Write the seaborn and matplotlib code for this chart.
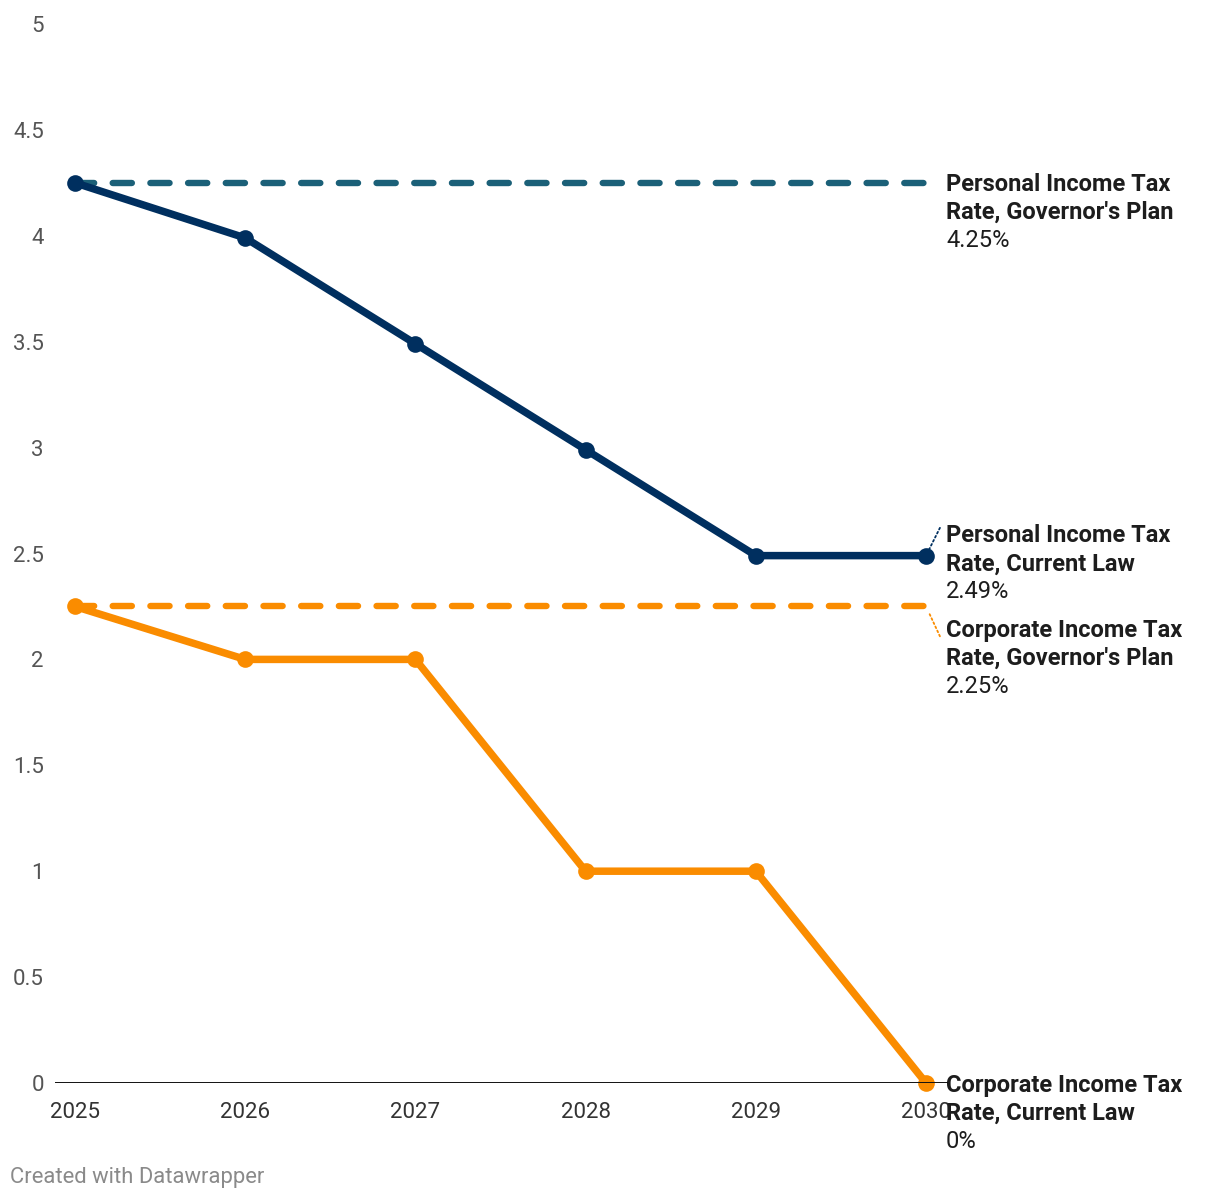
import numpy as np
import pandas as pd
import matplotlib.pyplot as plt
import seaborn as sns

# values
years = [2025, 2026, 2027, 2028, 2029, 2030]
personal_current = [4.25, 3.99, 3.49, 2.99, 2.49, 2.49]
personal_plan = [4.25, 4.25, 4.25, 4.25, 4.25, 4.25]
corporate_current = [2.25, 2.0, 2.0, 1.0, 1.0, 0.0]
corporate_plan = [2.25, 2.25, 2.25, 2.25, 2.25, 2.25]

series_names = [
    "Personal Income Tax Rate, Governor's Plan",
    "Personal Income Tax Rate, Current Law",
    "Corporate Income Tax Rate, Governor's Plan",
    "Corporate Income Tax Rate, Current Law",
]
label_lines = [
    ("Personal Income Tax", "Rate, Governor's Plan"),
    ("Personal Income Tax", "Rate, Current Law"),
    ("Corporate Income Tax", "Rate, Governor's Plan"),
    ("Corporate Income Tax", "Rate, Current Law"),
]
end_labels = ["4.25%", "2.49%", "2.25%", "0%"]
y_ticks = [0, 0.5, 1, 1.5, 2, 2.5, 3, 3.5, 4, 4.5, 5]
y_tick_labels = ["0", "0.5", "1", "1.5", "2", "2.5", "3", "3.5", "4", "4.5", "5"]

df = pd.DataFrame({
    "year": years * 4,
    "rate": personal_plan + personal_current + corporate_plan + corporate_current,
    "series": np.repeat(series_names, len(years)),
})

NAVY = "#002f5f"
TEAL = "#1b6078"
ORANGE = "#fa8c00"
colors = [TEAL, NAVY, ORANGE, ORANGE]
dashed = [True, False, True, False]

sns.set_theme(style="white")
plt.rcParams["font.family"] = ["Roboto", "DejaVu Sans"]

fig = plt.figure(figsize=(12.2, 12.0), dpi=100)
ax = fig.add_axes([55 / 1220, 117 / 1200, 893 / 1220, 1059 / 1200])

ax.axhline(0, color="#111111", lw=1.4, zorder=5)

for name, color, is_dashed in zip(series_names, colors, dashed):
    sub = df[df["series"] == name]
    if is_dashed:
        sns.lineplot(data=sub, x="year", y="rate", ax=ax, color=color,
                     lw=4.6, dashes=False, zorder=2)
        line = ax.get_lines()[-1]
        line.set_linestyle((0, (3.0, 2.9)))
        line.set_dash_capstyle("round")
    else:
        sns.lineplot(data=sub, x="year", y="rate", ax=ax, color=color,
                     lw=5.4, marker="o", markersize=12, markeredgewidth=0,
                     zorder=3)
        line = ax.get_lines()[-1]
        line.set_solid_capstyle("round")
        line.set_clip_on(False)

ax.set_xlim(2025 - 0.1175, 2030 + 0.129)
ax.set_ylim(0, 5)
ax.set_xticks(years)
ax.set_xticklabels([str(y) for y in years])
ax.set_yticks(y_ticks)
ax.set_yticklabels(y_tick_labels)
ax.tick_params(axis="y", length=0, pad=8, labelsize=16, labelcolor="#555555")
ax.tick_params(axis="x", length=0, pad=13.5, labelsize=16, labelcolor="#333333")
ax.set_xlabel("")
ax.set_ylabel("")
for s in ax.spines.values():
    s.set_visible(False)
ax.grid(False)

# end-of-line labels, shifted (in points) where they would collide
end_values = [personal_plan[-1], personal_current[-1],
              corporate_plan[-1], corporate_current[-1]]
shift = [-1.2, 14.3, -17.2, -1.5]
line_gap = 20.2
for (l1, l2), val_text, v, dy in zip(label_lines, end_labels, end_values, shift):
    for i, (txt, weight) in enumerate([(l1, "bold"), (l2, "bold"), (val_text, "normal")]):
        ax.annotate(txt, xy=(2030, v), xytext=(14.4, dy - i * line_gap),
                    textcoords="offset points", va="center", ha="left",
                    fontsize=17, fontweight=weight, color="#1d1d1d",
                    annotation_clip=False)

# dotted connectors for the shifted labels
ax.annotate("", xy=(2030, personal_current[-1]), xytext=(10, 20),
            textcoords="offset points", annotation_clip=False,
            arrowprops=dict(arrowstyle="-", ls=(0, (1, 1.5)), lw=1.3,
                            color=NAVY, shrinkA=0, shrinkB=5))
ax.annotate("", xy=(2030, corporate_plan[-1]), xytext=(10, -21.5),
            textcoords="offset points", annotation_clip=False,
            arrowprops=dict(arrowstyle="-", ls=(0, (1, 1.5)), lw=1.3,
                            color=ORANGE, shrinkA=0, shrinkB=5))

fig.text(10 / 1220, 1 - 1178 / 1200, "Created with Datawrapper",
         fontsize=15.8, color="#8a8a8a", va="center", ha="left")

fig.savefig("out.png", dpi=100)
